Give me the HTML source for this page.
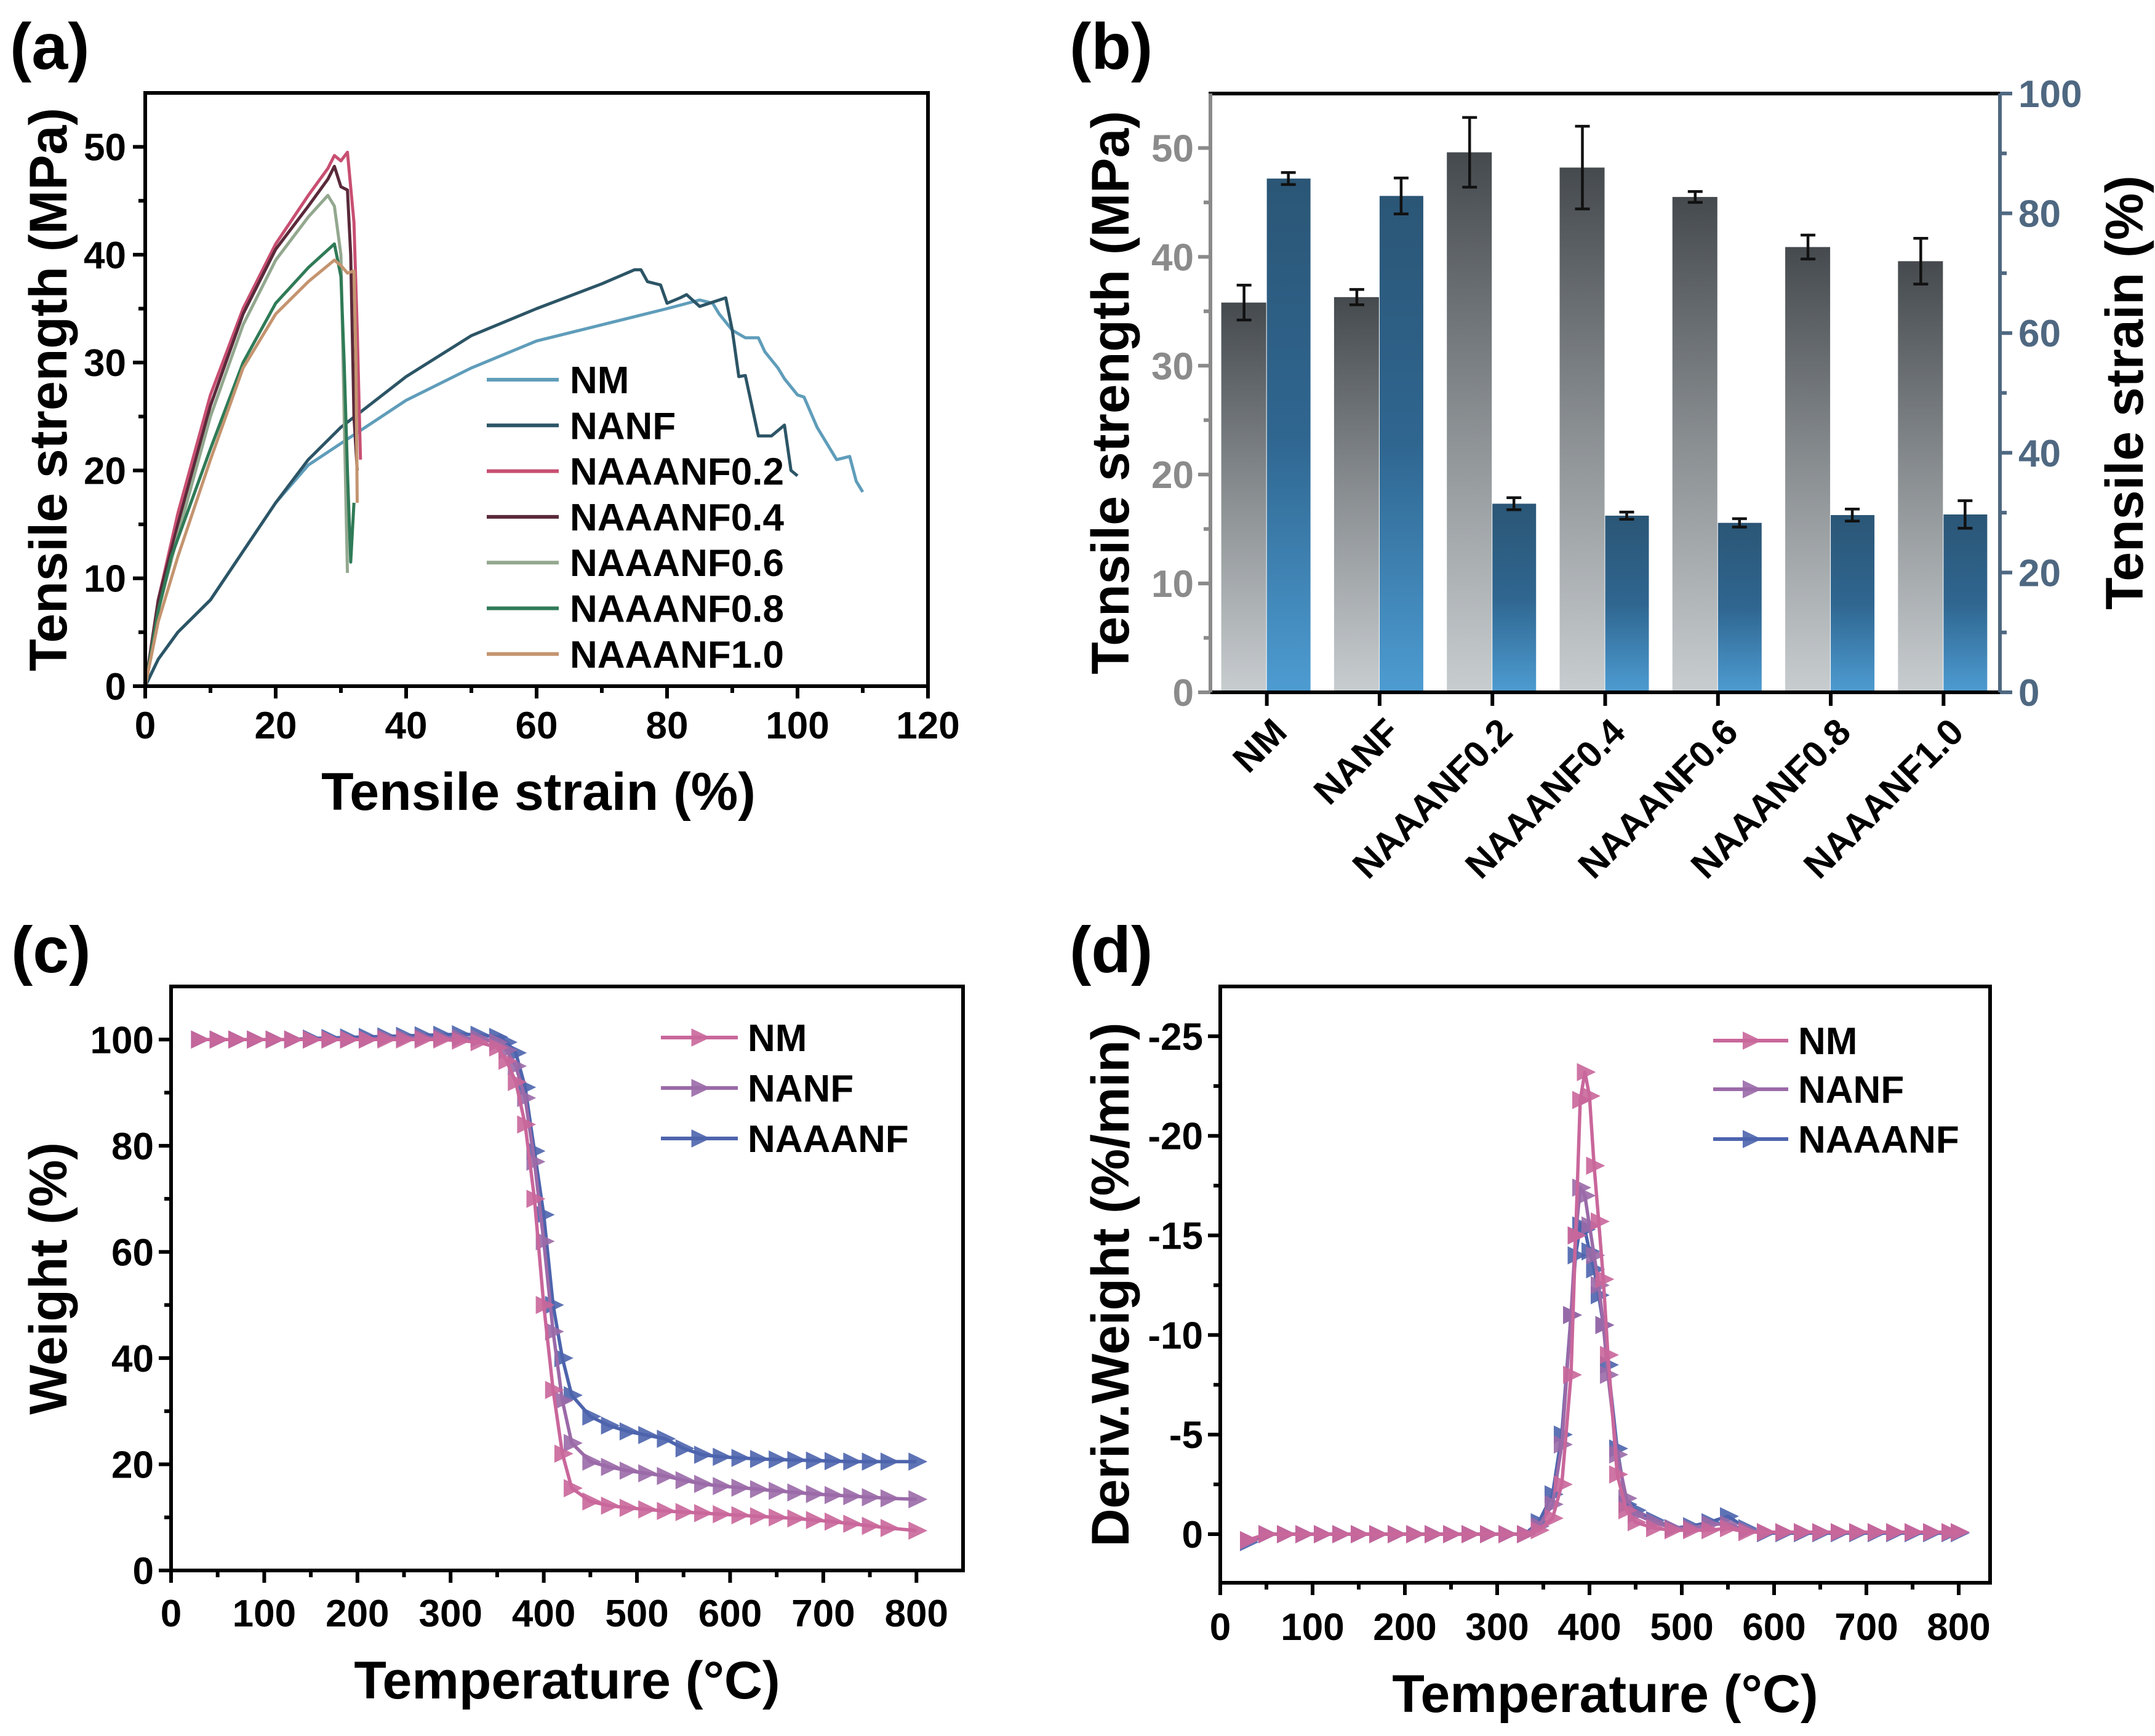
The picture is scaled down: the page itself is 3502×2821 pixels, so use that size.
<!DOCTYPE html>
<html><head><meta charset="utf-8"><style>
html,body{margin:0;padding:0;background:#fff}
svg{display:block;font-family:"Liberation Sans",Arial,sans-serif;font-weight:bold}
</style></head><body>
<svg id="fig" width="3502" height="2821" viewBox="0 0 3502 2821" xmlns="http://www.w3.org/2000/svg">
<defs>
<linearGradient id="gGray" x1="0" y1="0" x2="0" y2="1"><stop offset="0" stop-color="#454a4e"/><stop offset="0.5" stop-color="#8a8f92"/><stop offset="1" stop-color="#c8cdd0"/></linearGradient>
<linearGradient id="gBlue" x1="0" y1="0" x2="0" y2="1"><stop offset="0" stop-color="#2b5676"/><stop offset="0.5" stop-color="#2f6690"/><stop offset="1" stop-color="#4d9cd2"/></linearGradient>
</defs>
</svg>
<script>
// ---------- Panel (a) data ----------
const aSeriesNames = ["NM","NANF","NAAANF0.2","NAAANF0.4","NAAANF0.6","NAAANF0.8","NAAANF1.0"];
const aColors = ["#5f9dba","#2c5566","#c84f72","#5a2a3a","#93a88f","#2f7b57","#c4946f"];
const aNM_x = [0,2,5,10,15,20,25,30,35,40,50,60,70,80,85,87,88,90,92,94,95,97,98,100,101,103,105,106,108,109,110];
const aNM_y = [0,2.5,5,8,12.5,17,20.5,22.5,24.5,26.5,29.5,32,33.5,35,35.8,35.5,34.5,33,32.3,32.3,31,29.5,28.5,27,26.8,24,22,21,21.3,19,18];
const aNANF_x = [0,2,5,10,15,20,25,30,40,50,60,70,75,76,77,79,80,82,83,85,89,90,91,92,93,94,96,98,99,100];
const aNANF_y = [0,2.5,5,8,12.5,17,21,24,28.7,32.5,35,37.3,38.6,38.6,37.5,37.2,35.5,36,36.3,35.2,36,33,28.7,28.8,26,23.2,23.2,24.2,20,19.5];
const a02_x = [0,2,5,10,15,20,25,28,29,30,31,32,32.5,33];
const a02_y = [0,8,16,27,35,41,45.5,48,49.2,48.7,49.5,43,33,21];
const a04_x = [0,2,5,10,15,20,25,28,29,30,31,31.5,32,32.5];
const a04_y = [0,8,15,26,34.5,40.5,44.5,47,48.2,46.3,46,40,25,20];
const a06_x = [0,2,5,10,15,20,25,28,29,30,30.5,31];
const a06_y = [0,7,14,25,33.5,39.5,43.5,45.5,44.5,40,25,10.5];
const a08_x = [0,2,4,10,15,20,25,29,30,30.5,31,31.5,32];
const a08_y = [0,7,12,22,30,35.5,38.8,41,38,30,20,11.5,17];
const a10_x = [0,2,5,10,15,20,25,29,30,31,32,32.3,32.5];
const a10_y = [0,6,12,21,29.5,34.5,37.5,39.5,39,38.3,38.5,30,17];
const aXTicks = [0,20,40,60,80,100,120];
const aYTicks = [0,10,20,30,40,50];

// ---------- Panel (b) data ----------
const bCategories = ["NM","NANF","NAAANF0.2","NAAANF0.4","NAAANF0.6","NAAANF0.8","NAAANF1.0"];
const bStrength = [35.8,36.3,49.6,48.2,45.5,40.9,39.6];
const bStrengthErr = [1.6,0.7,3.2,3.8,0.5,1.1,2.1];
const bStrain = [85.8,82.9,31.5,29.5,28.3,29.6,29.7];
const bStrainErr = [1.0,3.0,1.0,0.6,0.7,1.0,2.3];
const bLeftTicks = [0,10,20,30,40,50];
const bRightTicks = [0,20,40,60,80,100];

// ---------- Panel (c) data ----------
const cTemps = [30,50,70,90,110,130,150,170,190,210,230,250,270,290,310,330,350,360,370,380,390,400,410,420,430,450,470,490,510,530,550,570,590,610,630,650,670,690,710,730,750,770,800];
const cNM = [100,100,100,100,100,100,100,100,100,100,100,100,100,100,99.8,99.5,98.5,96,92,84,70,50,34,22,15.5,13,12.2,11.8,11.5,11.2,11,10.8,10.6,10.4,10.2,10,9.8,9.5,9.2,8.8,8.4,8,7.5];
const cNANF = [100,100,100,100,100,100,100,100,100,100,100.3,100.3,100.3,100.3,100.3,100.2,99.5,98,95,89,77,62,45,32,24,20.5,19.5,18.8,18.3,17.8,17,16.3,15.9,15.6,15.3,15,14.7,14.4,14.2,14,13.8,13.6,13.4];
const cNAAANF = [100,100,100,100,100,100,100.2,100.3,100.4,100.5,100.6,100.7,100.8,100.9,101,100.9,100.5,99.5,97.5,91,79,67,50,40,33,29,27.3,26.2,25.5,24.8,23,21.8,21.4,21.2,21,20.9,20.8,20.7,20.6,20.5,20.5,20.5,20.5];
const cXTicks = [0,100,200,300,400,500,600,700,800];
const cYTicks = [0,20,40,60,80,100];

// ---------- Panel (d) data ----------
const dTemps = [30,50,70,90,110,130,150,170,190,210,230,250,270,290,310,330,345,360,370,380,385,390,395,400,405,410,415,420,430,440,450,470,490,510,530,550,570,590,610,630,650,670,690,710,730,750,770,790,800];
const dNM = [0.3,0,0,0,0,0,0,0,0,0,0,0,0,0,0,0,-0.2,-0.8,-2.5,-8,-15,-21.8,-23.2,-22,-18.5,-15.7,-12.8,-9,-3,-1.2,-0.6,-0.3,-0.2,-0.2,-0.2,-0.3,-0.1,-0.1,-0.1,-0.1,-0.1,-0.1,-0.1,-0.1,-0.1,-0.1,-0.1,-0.1,-0.1];
const dNANF = [0.3,0,0,0,0,0,0,0,0,0,0,0,0,0,0,0,-0.4,-1.5,-4.5,-11,-15,-17.4,-17,-15.5,-14,-12.5,-10.5,-8,-4,-1.8,-1,-0.6,-0.3,-0.3,-0.5,-0.5,-0.2,-0.1,-0.1,-0.1,-0.1,-0.1,-0.1,-0.1,-0.1,-0.1,-0.1,-0.1,-0.1];
const dNAAANF = [0.4,0,0,0,0,0,0,0,0,0,0,0,0,0,0,0,-0.6,-2,-5,-11,-14,-15.5,-15.3,-14.2,-13.3,-12,-10.5,-8.5,-4.3,-1.5,-1.2,-0.7,-0.3,-0.4,-0.6,-0.9,-0.3,-0.05,-0.05,-0.05,-0.05,-0.05,-0.05,-0.05,-0.05,-0.05,-0.05,-0.05,-0.05];
const dXTicks = [0,100,200,300,400,500,600,700,800];
const dYTicks = [0,-5,-10,-15,-20,-25];
const tgaNames = ["NM","NANF","NAAANF"];
const tgaColors = ["#c9679b","#9b6aa8","#4d64ad"];

const TICK_FS = 62, TITLE_FS = 86, LEG_FS = 62, PANEL_FS = 106;
const NS = "http://www.w3.org/2000/svg";
const svg = document.getElementById("fig");
function mk(tag, attrs, parent){
  const e = document.createElementNS(NS, tag);
  for (const k in attrs) e.setAttribute(k, attrs[k]);
  (parent||svg).appendChild(e);
  return e;
}
function lin(d0,d1,r0,r1){ return v => r0 + (v-d0)/(d1-d0)*(r1-r0); }
function txt(x,y,s,size,anchor,fill,extra){
  const t = mk("text", Object.assign({x:x,y:y,"font-size":size,"text-anchor":anchor||"middle",fill:fill||"#000"}, extra||{}));
  t.textContent = s;
  return t;
}
function tri(x,y,s,color){
  const p = mk("polygon",{points:`${x-s*0.5},${y-s*0.55} ${x+s*0.65},${y} ${x-s*0.5},${y+s*0.55}`,fill:color,stroke:color,"stroke-width":2,opacity:0.9});
  return p;
}

// ===================== Panel (a) =====================
{
  const L=236,R=1508,T=151,B=1115;
  const X = lin(0,120,L,R), Y = lin(0,55,B,T);
  let e;
  e = txt(16,112,"(a)",PANEL_FS,"start");
  
  
  const g = mk("g",{});
  
  
  const xs=[aNM_x,aNANF_x,a02_x,a04_x,a06_x,a08_x,a10_x], ys=[aNM_y,aNANF_y,a02_y,a04_y,a06_y,a08_y,a10_y];
  for(let i=0;i<xs.length;i++){
    const pts = xs[i].map((v,j)=>X(v).toFixed(1)+","+Y(ys[i][j]).toFixed(1)).join(" ");
    const pl = mk("polyline",{points:pts,fill:"none",stroke:aColors[i],"stroke-width":5,"stroke-linejoin":"round"},g);
    
    
  }
  e = mk("rect",{x:L,y:T,width:R-L,height:B-T,fill:"none",stroke:"#000","stroke-width":6});
  
  
  for(let v=0; v<=120; v+=10){
    const maj = aXTicks.includes(v);
    e = mk("line",{x1:X(v),y1:B,x2:X(v),y2:B+(maj?20:11),stroke:"#000","stroke-width":6});
    
    
  }
  aXTicks.forEach(v=>{
    e = txt(X(v),1200,String(v),TICK_FS,"middle");
    
    
  });
  for(let v=0; v<=50; v+=5){
    const maj = aYTicks.includes(v);
    e = mk("line",{x1:L-(maj?20:11),y1:Y(v),x2:L,y2:Y(v),stroke:"#000","stroke-width":6});
    
    
  }
  aYTicks.forEach(v=>{
    e = txt(205,Y(v)+22,String(v),TICK_FS,"end");
    
    
  });
  e = txt(875,1316,"Tensile strain (%)",TITLE_FS,"middle");
  
  
  e = txt(0,0,"Tensile strength (MPa)",TITLE_FS,"middle",null,{transform:"translate(108,633) rotate(-90)"});
  
  
  for(let i=0;i<aSeriesNames.length;i++){
    const ly = 617 + i*74.3;
    e = mk("line",{x1:791,y1:ly,x2:908,y2:ly,stroke:aColors[i],"stroke-width":6});
    
    
    e = txt(926,ly+22,aSeriesNames[i],LEG_FS,"start");
    
    
  }
}

// ===================== Panel (b) =====================
{
  const L=1967,R=3250,T=152,B=1125;
  const YL = lin(0,55,B,T), YR = lin(0,100,B,T);
  const bw = (R-L)/bCategories.length;
  const cx = i => L + bw*(i+0.5);
  let e;
  e = txt(1738,112,"(b)",PANEL_FS,"start");
  
  
  for(let i=0;i<bCategories.length;i++){
    const c = cx(i);
    let y = YL(bStrength[i]);
    e = mk("rect",{x:c-74,y:y,width:73,height:B-y,fill:"url(#gGray)"});
    
    
    let y2 = YR(bStrain[i]);
    e = mk("rect",{x:c,y:y2,width:71,height:B-y2,fill:"url(#gBlue)"});
    
    
    const ex1 = c-37, ya=YL(bStrength[i]+bStrengthErr[i]), yb=YL(bStrength[i]-bStrengthErr[i]);
    e = mk("path",{d:`M${ex1},${ya}V${yb}M${ex1-12},${ya}H${ex1+12}M${ex1-12},${yb}H${ex1+12}`,stroke:"#111","stroke-width":4.5,fill:"none"});
    
    
    const ex2 = c+35, yc=YR(bStrain[i]+bStrainErr[i]), yd=YR(bStrain[i]-bStrainErr[i]);
    e = mk("path",{d:`M${ex2},${yc}V${yd}M${ex2-12},${yc}H${ex2+12}M${ex2-12},${yd}H${ex2+12}`,stroke:"#111","stroke-width":4.5,fill:"none"});
    
    
    e = mk("line",{x1:c,y1:B,x2:c,y2:B+22,stroke:"#000","stroke-width":6});
    
    
    e = txt(0,0,bCategories[i],60,"end",null,{transform:`translate(${c+36},${B+68}) rotate(-45)`});
    
    
  }
  e = mk("line",{x1:L-3,y1:T,x2:R+3,y2:T,stroke:"#000","stroke-width":6});
  
  
  e = mk("line",{x1:L-3,y1:B,x2:R+3,y2:B,stroke:"#000","stroke-width":6});
  
  
  e = mk("line",{x1:L,y1:T,x2:L,y2:B,stroke:"#8a8a8a","stroke-width":6});
  
  
  e = mk("line",{x1:R,y1:T,x2:R,y2:B,stroke:"#4f6881","stroke-width":6});
  
  
  for(let v=0; v<=50; v+=5){
    const maj = bLeftTicks.includes(v);
    e = mk("line",{x1:L-(maj?20:11),y1:YL(v),x2:L,y2:YL(v),stroke:"#8a8a8a","stroke-width":6});
    
    
  }
  bLeftTicks.forEach(v=>{
    e = txt(1940,YL(v)+22,String(v),TICK_FS,"end","#8b8b8b");
    
    
  });
  for(let v=0; v<=100; v+=10){
    const maj = bRightTicks.includes(v);
    e = mk("line",{x1:R,y1:YR(v),x2:R+(maj?20:11),y2:YR(v),stroke:"#4f6881","stroke-width":6});
    
    
  }
  bRightTicks.forEach(v=>{
    e = txt(3280,YR(v)+22,String(v),TICK_FS,"start","#4f6881");
    
    
  });
  e = txt(0,0,"Tensile strength (MPa)",TITLE_FS,"middle",null,{transform:"translate(1834,638) rotate(-90)"});
  
  
  e = txt(0,0,"Tensile strain (%)",TITLE_FS,"middle",null,{transform:"translate(3482,638) rotate(-90)"});
  
  
}

// ===================== TGA panels helper =====================
function tgaPanel(o){
  const X = lin(o.xd[0],o.xd[1],o.L,o.R), Y = lin(o.yd[0],o.yd[1],o.B,o.T);
  let e;
  e = txt(o.labX,1580,o.label,PANEL_FS,"start");
  
  
  const series=[o.s1,o.s2,o.s3];
  for(let i=2;i>=0;i--){
    const g = mk("g",{});
    
    
    const pts = o.temps.map((t,j)=>X(t).toFixed(1)+","+Y(series[i][j]).toFixed(1)).join(" ");
    e = mk("polyline",{points:pts,fill:"none",stroke:tgaColors[i],"stroke-width":5.5,"stroke-linejoin":"round"},g);
    
    
    o.temps.forEach((t,j)=>{
      const p = tri(X(t),Y(series[i][j]),24,tgaColors[i]);
      g.appendChild(p);
      
      
    });
  }
  e = mk("rect",{x:o.L,y:o.T,width:o.R-o.L,height:o.B-o.T,fill:"none",stroke:"#000","stroke-width":6});
  
  
  for(let v=0; v<=800; v+=50){
    const maj = v%100===0;
    e = mk("line",{x1:X(v),y1:o.B,x2:X(v),y2:o.B+(maj?20:11),stroke:"#000","stroke-width":6});
    
    
  }
  o.xt.forEach(v=>{
    e = txt(X(v),o.xlY,String(v),TICK_FS,"middle");
    
    
  });
  o.yMinor.forEach(v=>{
    const maj = o.yt.includes(v);
    e = mk("line",{x1:o.L-(maj?20:11),y1:Y(v),x2:o.L,y2:Y(v),stroke:"#000","stroke-width":6});
    
    
  });
  o.yt.forEach(v=>{
    e = txt(o.ylX,Y(v)+22,String(v),TICK_FS,"end");
    
    
  });
  e = txt((o.L+o.R)/2,o.xtY,"Temperature (°C)",TITLE_FS,"middle");
  
  
  e = txt(0,0,o.ytitle,TITLE_FS,"middle",null,{transform:`translate(${o.ytX},${(o.T+o.B)/2}) rotate(-90)`});
  
  
  for(let i=0;i<3;i++){
    const ly=o.legY[i];
    e = mk("line",{x1:o.legX[0],y1:ly,x2:o.legX[1],y2:ly,stroke:tgaColors[i],"stroke-width":6});
    
    
    const m = tri((o.legX[0]+o.legX[1])/2,ly,24,tgaColors[i]);
    
    
    e = txt(o.legX[1]+16,ly+22,tgaNames[i],LEG_FS,"start");
    
    
  }
}

// ===================== Panel (c) =====================
tgaPanel({id:"panel-c",label:"(c)",labX:18,L:278,R:1565,T:1603,B:2552,xd:[0,850],yd:[0,110],
  temps:cTemps,s1:cNM,s2:cNANF,s3:cNAAANF,xt:cXTicks,yt:cYTicks,
  yMinor:[0,10,20,30,40,50,60,70,80,90,100],xlY:2643,ylX:250,xtY:2760,ytX:108,ytitle:"Weight (%)",
  legX:[1074,1199],legY:[1686,1768,1850]});

// ===================== Panel (d) =====================
tgaPanel({id:"panel-d",label:"(d)",labX:1738,L:1983,R:3234,T:1603,B:2572,xd:[0,834],yd:[2.44,-27.5],
  temps:dTemps,s1:dNM,s2:dNANF,s3:dNAAANF,xt:dXTicks,yt:dYTicks,
  yMinor:[0,-2.5,-5,-7.5,-10,-12.5,-15,-17.5,-20,-22.5,-25],xlY:2665,ylX:1955,xtY:2782,ytX:1834,ytitle:"Deriv.Weight (%/min)",
  legX:[2784,2906],legY:[1691,1770,1851]});
</script>
</body></html>
